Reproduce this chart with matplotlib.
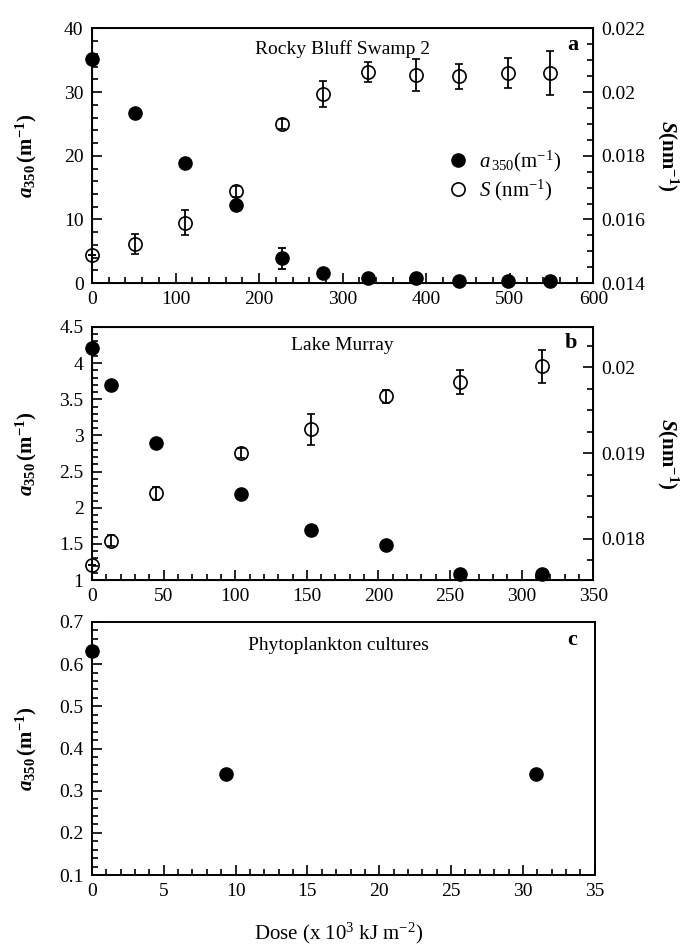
import matplotlib
matplotlib.use('Agg')
from matplotlib import pyplot as plt
from matplotlib.lines import Line2D
from matplotlib.ticker import MultipleLocator

plt.rcParams['font.family'] = ['Liberation Serif', 'DejaVu Serif']
plt.rcParams['mathtext.fontset'] = 'custom'
plt.rcParams['mathtext.rm'] = 'Liberation Serif'
plt.rcParams['mathtext.it'] = 'Liberation Serif:italic'
plt.rcParams['mathtext.bf'] = 'Liberation Serif:bold'
plt.rcParams['mathtext.bfit'] = 'Liberation Serif:italic:bold'

# panel a: Rocky Bluff Swamp 2
doseA = [0, 52, 111, 172, 228, 277, 330, 388, 439, 498, 548]
a350A = [35.2, 26.7, 18.8, 12.2, 3.9, 1.6, 0.85, 0.85, 0.3, 0.3, 0.3]
a350A_err = [0, 0, 0, 0, 1.6, 0, 0, 0, 0, 0, 0]
sA = [0.01487, 0.01522, 0.01590, 0.01689, 0.01900, 0.01995, 0.02062,
      0.02054, 0.02049, 0.02060, 0.02060]
sA_err = [0, 0.00031, 0.00039, 0.00017, 0.00015, 0.00041, 0.00031,
          0.00050, 0.00040, 0.00048, 0.00068]

# panel b: Lake Murray
doseB = [0, 13, 45, 104, 153, 205, 257, 314]
a350B = [4.21, 3.70, 2.90, 2.19, 1.69, 1.49, 1.09, 1.09]
sB = [0.01770, 0.01798, 0.01853, 0.01900, 0.01928, 0.01966, 0.01983, 0.02001]
sB_err = [0, 0.00006, 0.00008, 0.00006, 0.00018, 0.00008, 0.00014, 0.00019]

# panel c: Phytoplankton cultures
doseC = [0, 9.3, 30.9]
a350C = [0.631, 0.339, 0.339]

fig = plt.figure(figsize=(6.86, 9.47), dpi=100)
axA = fig.add_axes([0.134, 0.701, 0.731, 0.269])
axB = fig.add_axes([0.134, 0.3875, 0.731, 0.2672])
axC = fig.add_axes([0.134, 0.076, 0.733, 0.2672])

FS = 14          # tick labels / panel titles
LFS = 15         # axis labels, legend
ylab_a = r'$\mathbfit{a}_{\mathbf{350}}\,\mathbf{(m^{-1})}$'
ylab_s = r'$\mathbfit{S}\mathbf{(nm^{-1})}$'
filled = dict(marker='o', ms=9.5, mfc='black', mec='black', ls='none')
opened = dict(marker='o', ms=9.5, mfc='none', mec='black', mew=1.2, ls='none')


def style(ax):
    for sp in ax.spines.values():
        sp.set_linewidth(1.4)
    ax.tick_params(which='both', direction='in', width=1.2, labelsize=FS,
                   top=False, right=False)
    ax.tick_params(which='major', length=7, pad=6)
    ax.tick_params(which='minor', length=4)


def twin_style(ax2):
    ax2.tick_params(which='both', direction='in', width=1.2, labelsize=FS,
                    left=False, right=True, top=False, bottom=False)
    ax2.tick_params(which='major', length=7, pad=6)
    ax2.tick_params(which='minor', length=4)


# ---- panel a
style(axA)
axA.set_xlim(0, 600)
axA.set_ylim(0, 40)
axA.xaxis.set_major_locator(MultipleLocator(100))
axA.xaxis.set_minor_locator(MultipleLocator(20))
axA.yaxis.set_major_locator(MultipleLocator(10))
axA.yaxis.set_minor_locator(MultipleLocator(2))
axA2 = axA.twinx()
twin_style(axA2)
axA2.set_ylim(0.014, 0.022)
axA2.set_yticks([0.014, 0.016, 0.018, 0.02, 0.022])
axA2.set_yticklabels(['0.014', '0.016', '0.018', '0.02', '0.022'])
axA2.yaxis.set_minor_locator(MultipleLocator(0.0005))
axA2.errorbar(doseA, sA, yerr=sA_err, capsize=3, elinewidth=1.3,
              capthick=1.3, ecolor='black', clip_on=False, zorder=3, **opened)
axA.errorbar(doseA, a350A, yerr=a350A_err, capsize=3, elinewidth=1.3,
             capthick=1.3, ecolor='black', clip_on=False, zorder=4, **filled)
axA.set_zorder(axA2.get_zorder() + 1)
axA.patch.set_visible(False)
axA.set_ylabel(ylab_a, fontsize=LFS)
axA.yaxis.set_label_coords(-0.105, 0.5)
axA2.set_ylabel(ylab_s, fontsize=LFS, rotation=270, va='center')
axA2.yaxis.set_label_coords(1.148, 0.5)
axA.text(0.5, 0.92, 'Rocky Bluff Swamp 2', transform=axA.transAxes,
         ha='center', va='center', fontsize=FS)
axA.text(0.958, 0.933, 'a', transform=axA.transAxes, ha='center',
         va='center', fontsize=16, fontweight='bold')
handles = [Line2D([], [], **filled), Line2D([], [], **opened)]
axA.legend(handles, [r'$a_{\,350}$(m$^{-1}$)', r'$S$ (nm$^{-1}$)'],
           loc='center left', bbox_to_anchor=(0.688, 0.42), frameon=False,
           fontsize=LFS, handlelength=1.0, handletextpad=0.5,
           labelspacing=0.2, borderpad=0)

# ---- panel b
style(axB)
axB.set_xlim(0, 350)
axB.set_ylim(1, 4.5)
axB.xaxis.set_major_locator(MultipleLocator(50))
axB.xaxis.set_minor_locator(MultipleLocator(10))
axB.set_yticks([1, 1.5, 2, 2.5, 3, 3.5, 4, 4.5])
axB.set_yticklabels(['1', '1.5', '2', '2.5', '3', '3.5', '4', '4.5'])
axB.yaxis.set_minor_locator(MultipleLocator(0.1))
axB2 = axB.twinx()
twin_style(axB2)
axB2.set_ylim(0.01752, 0.02047)
axB2.set_yticks([0.018, 0.019, 0.02])
axB2.set_yticklabels(['0.018', '0.019', '0.02'])
axB2.yaxis.set_minor_locator(MultipleLocator(0.00025))
axB2.errorbar(doseB, sB, yerr=sB_err, capsize=3, elinewidth=1.3,
              capthick=1.3, ecolor='black', clip_on=False, zorder=3, **opened)
axB.plot(doseB, a350B, clip_on=False, zorder=4, **filled)
axB.set_zorder(axB2.get_zorder() + 1)
axB.patch.set_visible(False)
axB.set_ylabel(ylab_a, fontsize=LFS)
axB.yaxis.set_label_coords(-0.105, 0.5)
axB2.set_ylabel(ylab_s, fontsize=LFS, rotation=270, va='center')
axB2.yaxis.set_label_coords(1.148, 0.5)
axB.text(0.5, 0.926, 'Lake Murray', transform=axB.transAxes,
         ha='center', va='center', fontsize=FS)
axB.text(0.955, 0.937, 'b', transform=axB.transAxes, ha='center',
         va='center', fontsize=16, fontweight='bold')

# ---- panel c
style(axC)
axC.set_xlim(0, 35)
axC.set_ylim(0.1, 0.7)
axC.xaxis.set_major_locator(MultipleLocator(5))
axC.xaxis.set_minor_locator(MultipleLocator(1))
axC.set_yticks([0.1, 0.2, 0.3, 0.4, 0.5, 0.6, 0.7])
axC.set_yticklabels(['0.1', '0.2', '0.3', '0.4', '0.5', '0.6', '0.7'])
axC.yaxis.set_minor_locator(MultipleLocator(0.02))
axC.plot(doseC, a350C, clip_on=False, zorder=4, **filled)
axC.set_ylabel(ylab_a, fontsize=LFS)
axC.yaxis.set_label_coords(-0.105, 0.5)
axC.text(0.49, 0.909, 'Phytoplankton cultures', transform=axC.transAxes,
         ha='center', va='center', fontsize=FS)
axC.text(0.955, 0.929, 'c', transform=axC.transAxes, ha='center',
         va='center', fontsize=16, fontweight='bold')
axC.set_xlabel(r'Dose (x 10$^3$ kJ m$^{-2}$)', fontsize=LFS)
axC.xaxis.set_label_coords(0.49, -0.18)

fig.savefig('out.png', dpi=100)
